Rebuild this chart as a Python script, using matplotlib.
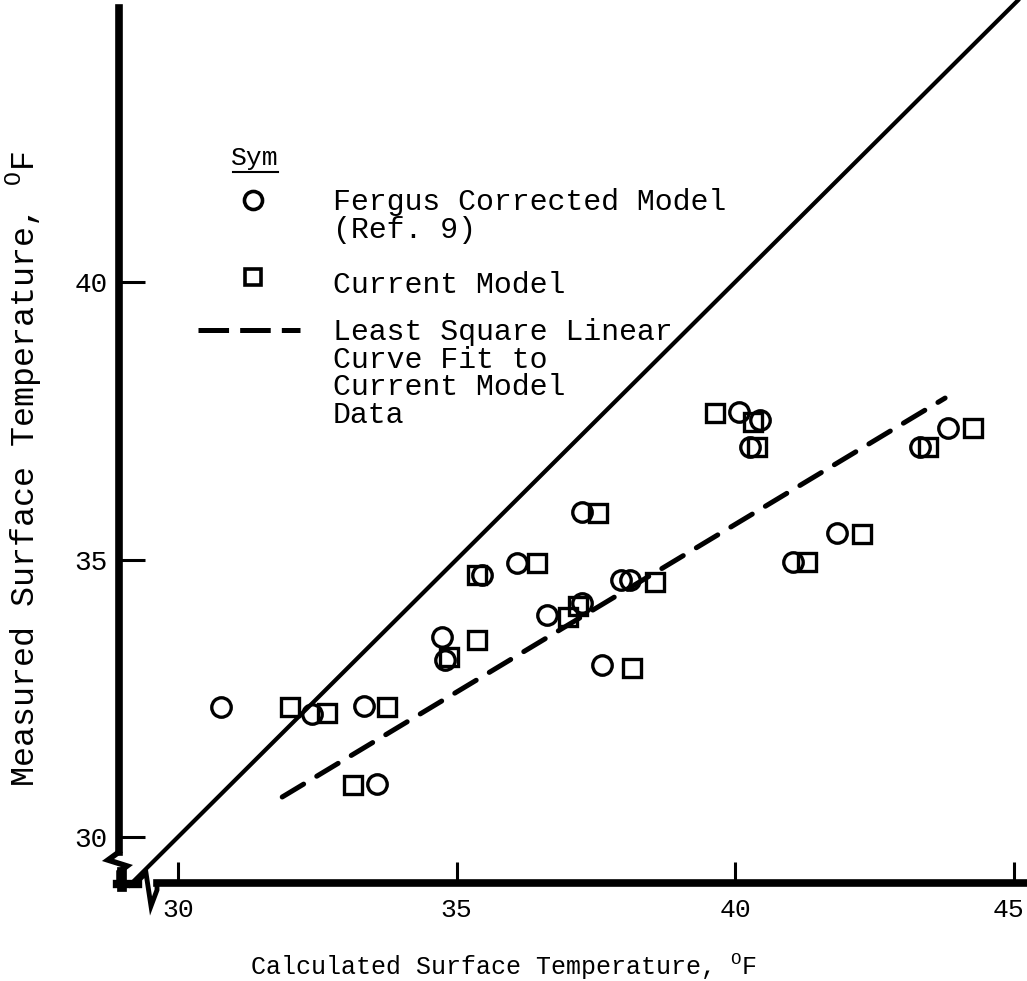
import matplotlib
matplotlib.use("Agg")
import matplotlib.pyplot as plt
from matplotlib.lines import Line2D
import matplotlib.transforms as mtransforms
import numpy as np

# ---- data ----
fergus_x = [30.77, 32.40, 33.34, 33.57, 34.74, 34.79, 35.46, 36.09, 36.62, 37.25,
            37.25, 37.96, 38.11, 37.61, 40.07, 40.45, 40.27, 41.04, 41.83, 43.32, 43.82]
fergus_y = [32.34, 32.22, 32.36, 30.95, 33.60, 33.19, 34.72, 34.94, 34.00, 35.86,
            34.22, 34.63, 34.63, 33.10, 37.66, 37.51, 37.03, 34.95, 35.48, 37.03, 37.37]
current_x = [32.01, 32.68, 33.75, 33.14, 34.87, 35.37, 35.37, 36.45, 37.54, 37.00,
             37.18, 38.56, 38.15, 39.64, 40.32, 40.39, 41.29, 42.28, 43.46, 44.27]
current_y = [32.34, 32.23, 32.34, 30.94, 33.24, 33.55, 34.72, 34.94, 35.84, 33.96,
             34.16, 34.59, 33.05, 37.64, 37.48, 37.03, 34.95, 35.46, 37.03, 37.37]
fit_x = [31.87, 43.77]
fit_y = [30.72, 37.91]
equal_x = [29.1, 45.3]
xticks = [30, 35, 40, 45]
yticks = [30, 35, 40]
xlabel = "Calculated Surface Temperature, $^{\\mathrm{O}}$F"
ylabel = "Measured Surface Temperature, $^{\\mathrm{O}}$F"
legend_labels = ["Fergus Corrected Model\n(Ref. 9)", "Current Model",
                 "Least Square Linear\nCurve Fit to\nCurrent Model\nData"]

W, H = 1027, 981
plt.rcParams['lines.scale_dashes'] = False
plt.rcParams['mathtext.fontset'] = 'custom'
plt.rcParams['mathtext.rm'] = 'Liberation Mono'
MONO = 'Liberation Mono'

fig = plt.figure(figsize=(W / 100, H / 100), dpi=100)
ax = fig.add_axes([119 / W, 1 - 883 / H, (W - 119) / W, (883 - 8) / H])

def fx(px):
    return px / W

def fy(py):
    return 1 - py / H

ax.plot(equal_x, equal_x, color='black', lw=3.0, solid_capstyle='butt', clip_on=False)
ax.plot(fit_x, fit_y, color='black', lw=3.6, dashes=(18, 11), dash_capstyle='round')
ax.plot(fergus_x, fergus_y, linestyle='none', marker='o', ms=14, mfc='none',
        mec='black', mew=2.4)
ax.plot(current_x, current_y, linestyle='none', marker='s', ms=13.5, mfc='none',
        mec='black', mew=2.4)

ax.set_xlim(28.94, 45.24)
ax.set_ylim(29.17, 44.94)
ax.set_xticks(xticks)
ax.set_yticks(yticks)
ax.set_xticklabels([str(t) for t in xticks], fontfamily=MONO, fontsize=19)
ax.set_yticklabels([str(t) for t in yticks], fontfamily=MONO, fontsize=20)
ax.tick_params(direction='in', length=19, width=2.2, pad=8)
ax.tick_params(axis='x', length=15, pad=11)
for s in ['top', 'right']:
    ax.spines[s].set_visible(False)
for s in ['left', 'bottom']:
    ax.spines[s].set_linewidth(5.5)
ax.spines['left'].set_bounds(29.73, 44.94)
ax.spines['bottom'].set_bounds(29.62, 45.24)
ax.set_xlabel(xlabel, fontfamily=MONO, fontsize=18)
ax.set_ylabel(ylabel, fontfamily=MONO, fontsize=24)
ax.xaxis.set_label_coords((503 - 119) / 908, (883 - 951) / 875)
ax.yaxis.set_label_coords((44 - 119) / 908, (883 - 469) / 875)

# keep the last x tick label inside the figure
last = ax.get_xticklabels()[-1]
last.set_transform(last.get_transform() +
                   mtransforms.ScaledTranslation(-5 / 100, 0, fig.dpi_scale_trans))

# axis break zigzags and corner
def fline(xs, ys, lw=4):
    fig.add_artist(Line2D([fx(x) for x in xs], [fy(y) for y in ys],
                          color='black', lw=lw, solid_joinstyle='miter'))

fline([119, 108, 127, 119, 119], [852, 860, 866, 872, 885], lw=4)
fline([117, 138], [884, 884], lw=6)
fline([135, 146, 151, 157, 157], [884, 873, 906, 890, 884], lw=3.5)
fline([122, 122], [872, 887], lw=7)

# legend
fig.text(fx(255), fy(158), "Sym", fontfamily=MONO, fontsize=19, ha='center', va='center')
fline([233, 278], [172, 172], lw=1.5)
fig.add_artist(Line2D([fx(253)], [fy(200)], marker='o', ms=13, mfc='none',
                      mec='black', mew=2.6))
fig.add_artist(Line2D([fx(253)], [fy(277)], marker='s', ms=12, mfc='none',
                      mec='black', mew=2.6))
fig.add_artist(Line2D([fx(198), fx(300)], [fy(330), fy(330)], color='black',
                      lw=3.6, dashes=(22, 8)))
fig.text(fx(333), fy(188), legend_labels[0], fontfamily=MONO, fontsize=21.5,
         ha='left', va='top', linespacing=0.98)
fig.text(fx(333), fy(271), legend_labels[1], fontfamily=MONO, fontsize=21.5,
         ha='left', va='top')
fig.text(fx(333), fy(318), legend_labels[2], fontfamily=MONO, fontsize=21.5,
         ha='left', va='top', linespacing=0.98)

fig.savefig("out.png", dpi=100)
